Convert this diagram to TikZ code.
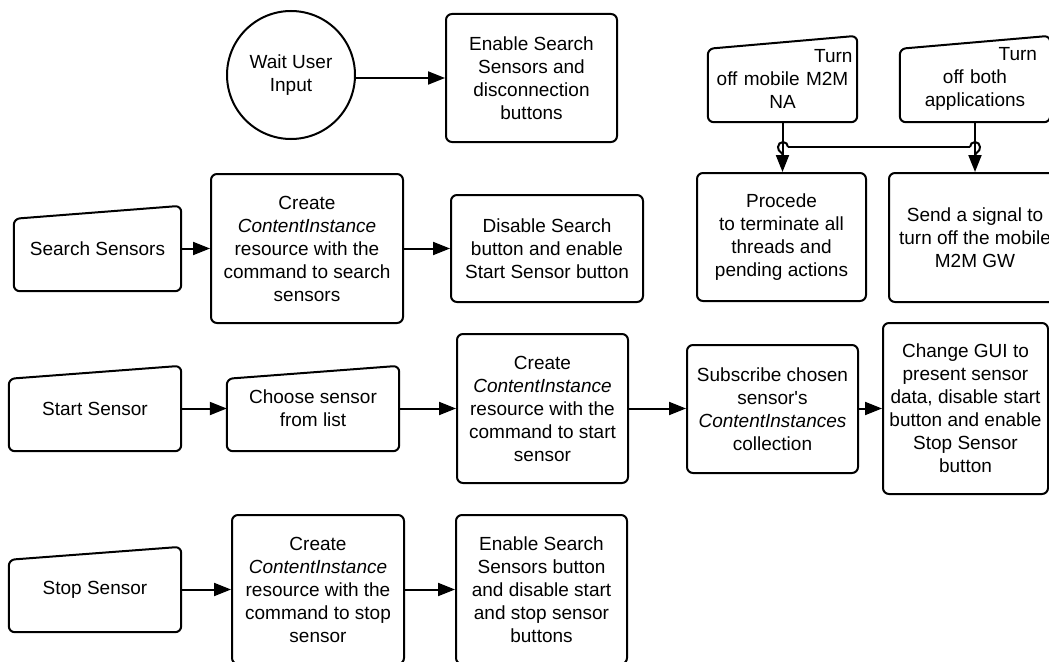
\documentclass[tikz,border=0pt]{standalone}
\usepackage{fontspec}
\setmainfont{Liberation Sans}
\usetikzlibrary{arrows.meta}
\newcommand{\manualshape}[1]{\draw[ln, rounded corners=6pt] (#1.south west) -- (#1.south east) -- (#1.north east) -- ([yshift=-13pt]#1.north west) -- cycle;}
\begin{document}
\begin{tikzpicture}[x=1pt,y=-1pt,
  every node/.style={font=\fontsize{19}{23}\selectfont, align=center, inner sep=0pt},
  ln/.style={line width=2pt, draw=black},
  box/.style={ln, rectangle, rounded corners=6pt},
  manual/.style={rectangle},
  arr/.style={ln, -{Triangle[length=17pt,width=13pt]}}]
\useasboundingbox (0,0) rectangle (1049,661);
\clip (0,0) rectangle (1049,661);

% top row
\node[ln, circle, minimum size=128pt] (wait) at (291,75) {Wait User\\Input};
\node[box, minimum width=171pt, minimum height=128pt] (enable) at (531.5,78) {Enable Search\\Sensors and\\disconnection\\buttons};
\draw[arr] (wait.east |- enable.west) -- (enable.west);

\node[manual, minimum width=149pt, minimum height=86pt, text width=140pt] (turnA) at (782.5,79) {\makebox[\linewidth][r]{Turn}\\off mobile M2M\\NA};
\manualshape{turnA}
\node[manual, minimum width=150pt, minimum height=86pt, text width=124pt] (turnB) at (975,79) {\makebox[\linewidth][r]{Turn}\\off both\\applications};
\manualshape{turnB}

\node[box, minimum width=169pt, minimum height=128pt] (procede) at (781.5,237) {Procede\\to terminate all\\threads and\\pending actions};
\node[box, minimum width=172pt, minimum height=129pt] (signal) at (975,237.5) {Send a signal to\\turn off the mobile\\M2M GW};

\draw[arr] (turnA.south) -- (turnA.south |- procede.north);
\draw[arr] (turnB.south) -- (turnB.south |- signal.north);
\coordinate (hopL) at (788,147);
\coordinate (hopR) at (970,147);
\draw[ln] (hopL) -- (hopR);
\draw[ln] (hopL) arc[start angle=0, end angle=180, radius=5pt] .. controls (778,153) and (783,151) .. (783,157);
\draw[ln] (hopR) arc[start angle=180, end angle=0, radius=5pt] .. controls (980,153) and (975,151) .. (975,157);

% row 2
\node[manual, minimum width=167pt, minimum height=85pt] (search) at (97.5,248.5) {Search Sensors};
\manualshape{search}
\node[box, minimum width=192pt, minimum height=149pt] (create1) at (307,248.5) {Create\\\textit{ContentInstance}\\resource with the\\command to search\\sensors};
\node[box, minimum width=192pt, minimum height=107pt] (disable) at (547,248.5) {Disable Search\\button and enable\\Start Sensor button};
\draw[arr] (search.east) -- (create1.west);
\draw[arr] (create1.east) -- (disable.west);

% row 3
\node[manual, minimum width=172pt, minimum height=85pt] (start) at (95,408.5) {Start Sensor};
\manualshape{start}
\node[manual, minimum width=172pt, minimum height=85pt] (choose) at (313,408.5) {Choose sensor\\from list};
\manualshape{choose}
\node[box, minimum width=171pt, minimum height=149pt] (create2) at (542.5,408.5) {Create\\\textit{ContentInstance}\\resource with the\\command to start\\sensor};
\node[box, minimum width=171pt, minimum height=128pt] (subscribe) at (772.5,409) {Subscribe chosen\\sensor\textquotesingle s\\\textit{ContentInstances}\\collection};
\node[box, minimum width=165pt, minimum height=171pt] (change) at (965.5,408.5) {Change GUI to\\present sensor\\data, disable start\\button and enable\\Stop Sensor\\button};
\draw[arr] (start.east) -- (choose.west);
\draw[arr] (choose.east) -- (create2.west);
\draw[arr] (create2.east) -- (create2.east -| subscribe.west);
\draw[arr] (subscribe.east |- create2.east) -- (create2.east -| change.west);

% row 4
\node[manual, minimum width=172pt, minimum height=85pt] (stop) at (95,589.5) {Stop Sensor};
\manualshape{stop}
\node[box, minimum width=172pt, minimum height=149pt] (create3) at (318,589.5) {Create\\\textit{ContentInstance}\\resource with the\\command to stop\\sensor};
\node[box, minimum width=171pt, minimum height=149pt] (enable2) at (541.5,589.5) {Enable Search\\Sensors button\\and disable start\\and stop sensor\\buttons};
\draw[arr] (stop.east) -- (create3.west);
\draw[arr] (create3.east) -- (enable2.west);
\end{tikzpicture}
\end{document}
